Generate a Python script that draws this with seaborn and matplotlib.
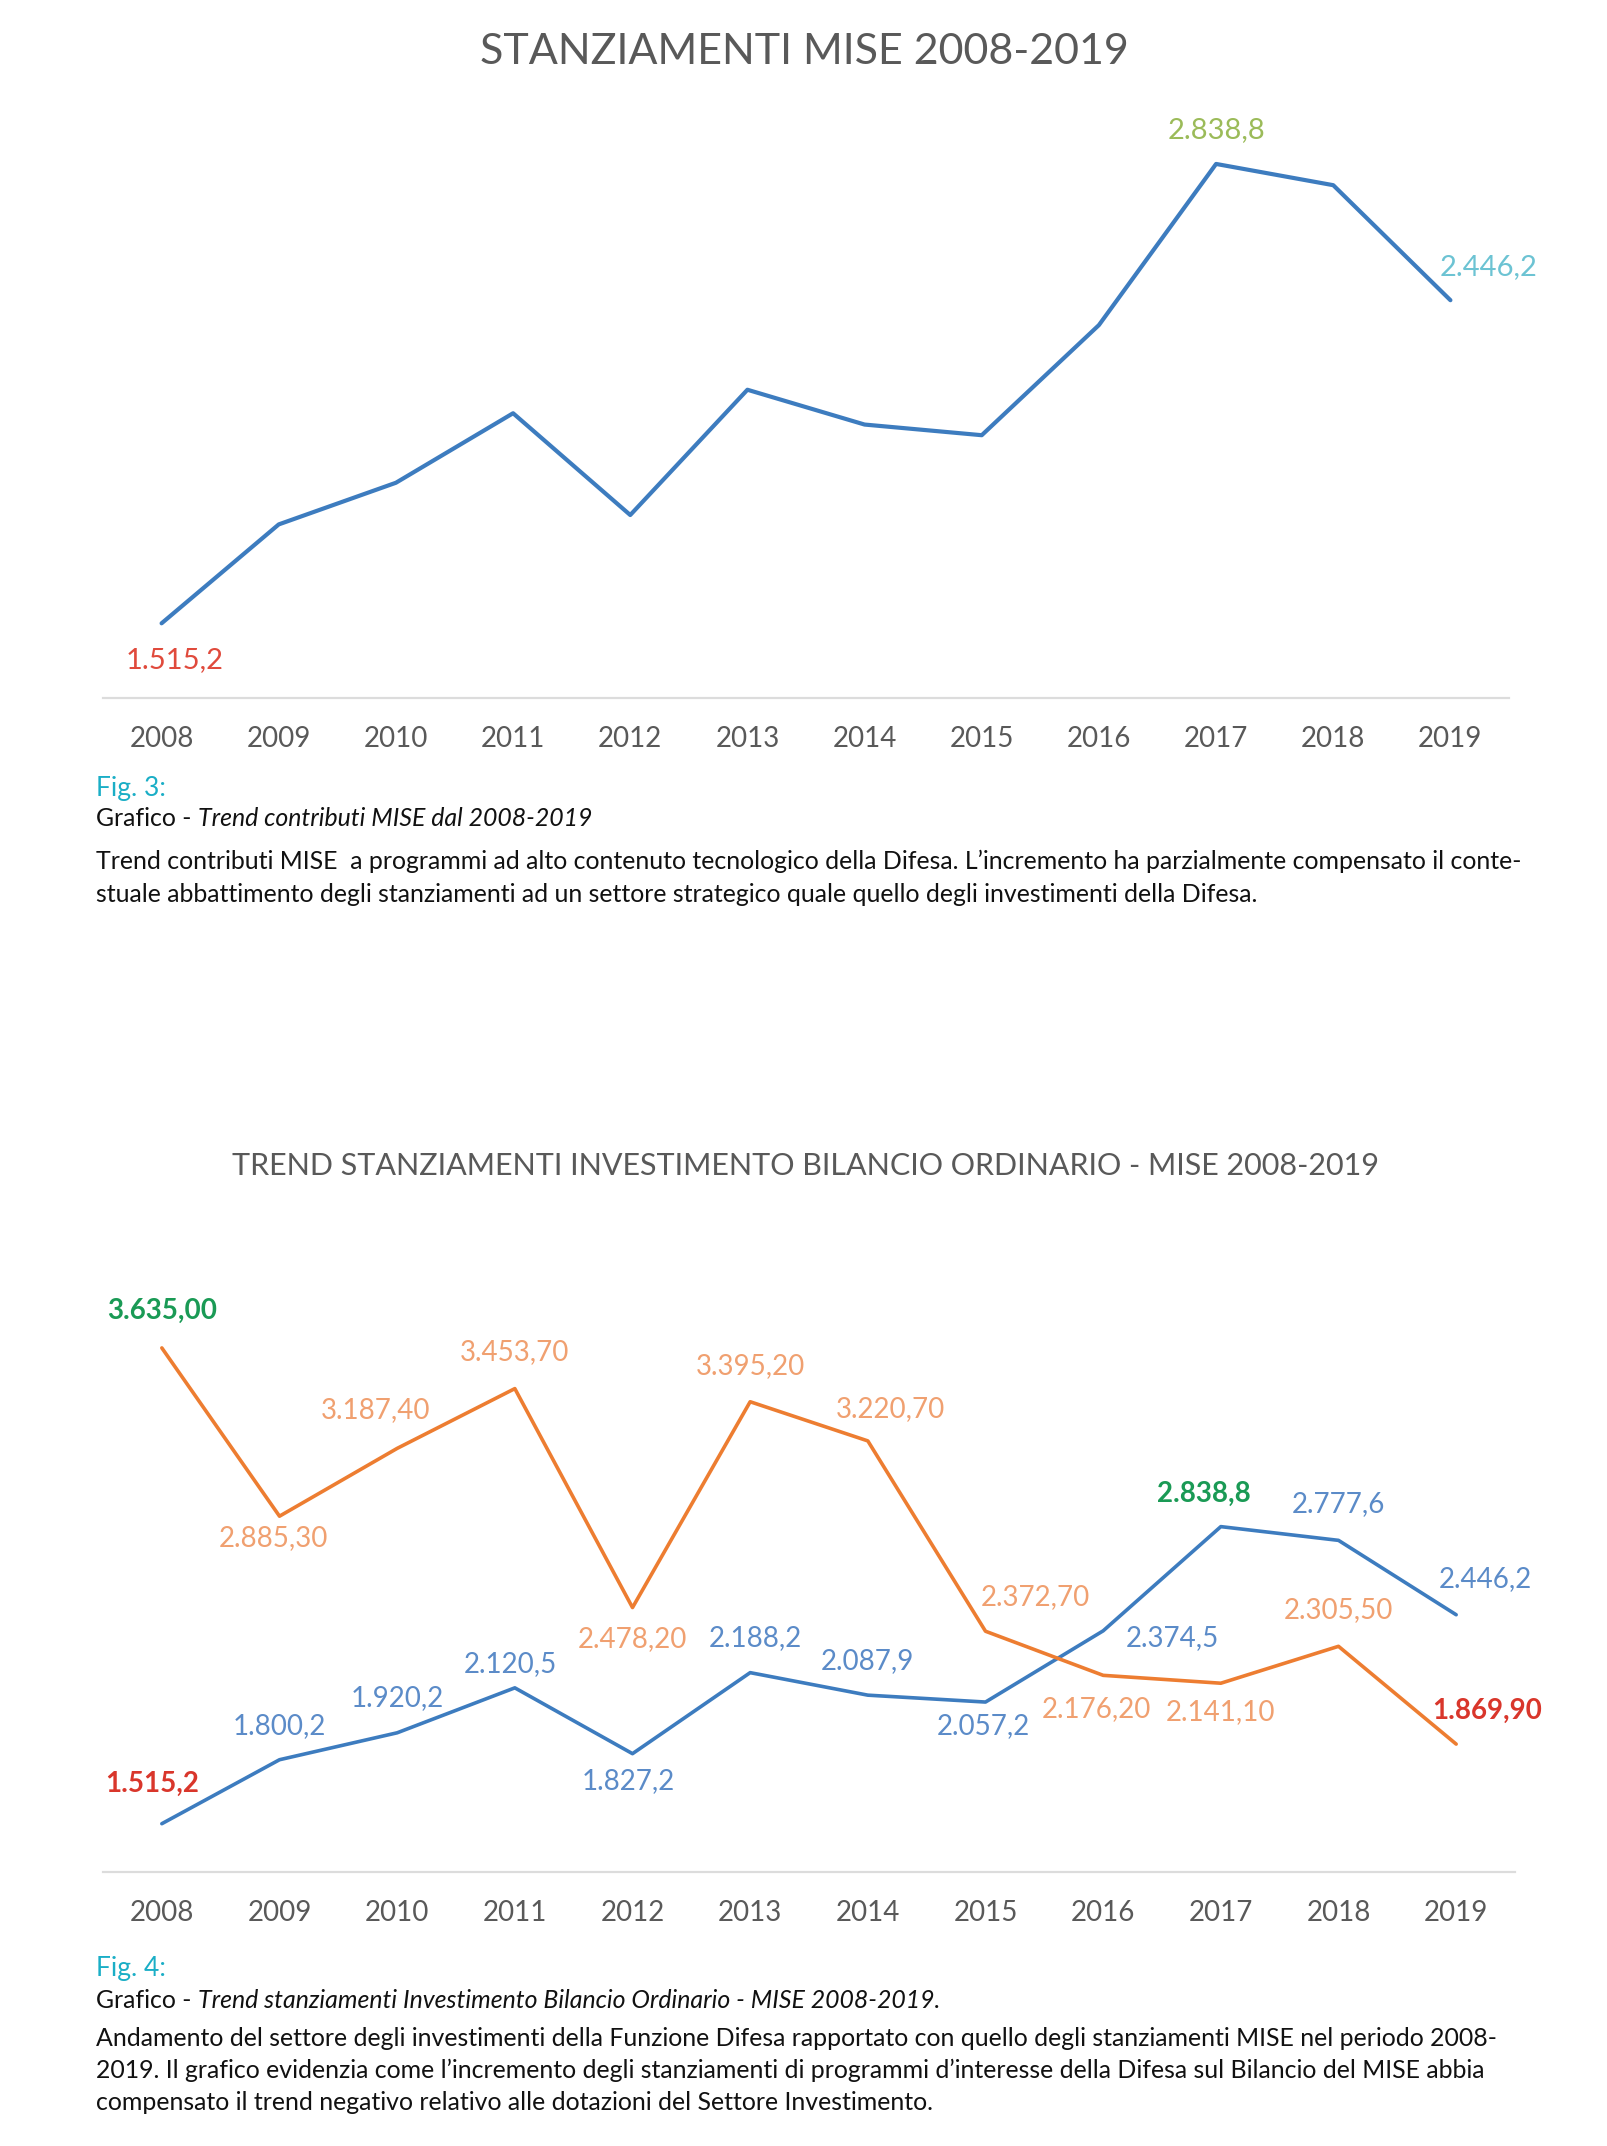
import pandas as pd
import seaborn as sns
import matplotlib.pyplot as plt

years = ['2008', '2009', '2010', '2011', '2012', '2013',
         '2014', '2015', '2016', '2017', '2018', '2019']
mise = [1515.2, 1800.2, 1920.2, 2120.5, 1827.2, 2188.2,
        2087.9, 2057.2, 2374.5, 2838.8, 2777.6, 2446.2]
investimento = [3635.00, 2885.30, 3187.40, 3453.70, 2478.20, 3395.20,
                3220.70, 2372.70, 2176.20, 2141.10, 2305.50, 1869.90]

mise_labels = ['1.515,2', '1.800,2', '1.920,2', '2.120,5', '1.827,2', '2.188,2',
               '2.087,9', '2.057,2', '2.374,5', '2.838,8', '2.777,6', '2.446,2']
inv_labels = ['3.635,00', '2.885,30', '3.187,40', '3.453,70', '2.478,20', '3.395,20',
              '3.220,70', '2.372,70', '2.176,20', '2.141,10', '2.305,50', '1.869,90']

BLUE = '#3d7cbf'
ORANGE = '#ed7d31'
GREY = '#595959'

sns.set_style('white')
plt.rcParams['font.family'] = ['Lato', 'DejaVu Sans']

W, H = 1608, 2146
fig = plt.figure(figsize=(W / 100, H / 100), dpi=100)


def style_axis(ax, ylim):
    ax.set_xlim(-0.5, 11.5)
    ax.set_ylim(*ylim)
    for s in ['top', 'left', 'right']:
        ax.spines[s].set_visible(False)
    ax.spines['bottom'].set_color('#dcdcdc')
    ax.spines['bottom'].set_linewidth(1.6)
    ax.set_yticks([])
    ax.set_xticks(range(len(years)))
    ax.set_xticklabels(years, fontsize=20, color=GREY)
    ax.tick_params(axis='x', length=0, pad=20)
    ax.set_xlabel('')
    ax.set_ylabel('')
    ax.set_facecolor('none')


def label(ax, i, v, text, dx, dy, color, bold=False, size=20):
    ax.annotate(text, xy=(i, v), xytext=(dx, dy), textcoords='offset pixels',
                ha='center', va='center', fontsize=size, color=color,
                fontweight='bold' if bold else 'normal')


# ---- chart 1
df1 = pd.DataFrame({'x': range(len(years)), 'v': mise})
ax1 = fig.add_axes([103 / W, 1 - 698 / H, 1406 / W, 590 / H])
sns.lineplot(data=df1, x='x', y='v', ax=ax1, color=BLUE, linewidth=3)
style_axis(ax1, (1300, 3000))
label(ax1, 9, mise[9], mise_labels[9], 0, 34, '#9bbb59', size=21)
label(ax1, 11, mise[11], mise_labels[11], 38, 33, '#6cc3d3', size=21)
label(ax1, 0, mise[0], mise_labels[0], 13, -37, '#e04a3c', size=21)
fig.text(0.5, 1 - 52 / H, 'STANZIAMENTI MISE 2008-2019', ha='center', va='center',
         fontsize=31, color=GREY)

# ---- chart 2
df2 = pd.DataFrame({
    'x': list(range(len(years))) * 2,
    'v': mise + investimento,
    'serie': ['MISE'] * len(years) + ['Investimento'] * len(years),
})
ax2 = fig.add_axes([103 / W, 1 - 1872 / H, 1412 / W, 606 / H])
sns.lineplot(data=df2, x='x', y='v', hue='serie', ax=ax2,
             palette={'MISE': BLUE, 'Investimento': ORANGE},
             linewidth=2.6, legend=False)
style_axis(ax2, (1300, 4000))
fig.text(806 / W, 1 - 1166 / H,
         'TREND STANZIAMENTI INVESTIMENTO BILANCIO ORDINARIO - MISE 2008-2019',
         ha='center', va='center', fontsize=22, color=GREY)

inv_off = [(0, 37), (-6, -22), (-22, 38), (0, 37), (0, -31), (0, 36),
           (23, 32), (50, 34), (-7, -34), (0, -29), (0, 36), (31, 33)]
mise_off = [(-10, 40), (0, 34), (0, 35), (-4, 24), (-4, -27), (5, 35),
            (0, 34), (-2, -24), (69, -7), (-17, 33), (0, 36), (29, 36)]

for i, (txt, (dx, dy)) in enumerate(zip(inv_labels, inv_off)):
    if i == 0:
        label(ax2, i, investimento[i], txt, dx, dy, '#1a9a55', bold=True)
    elif i == 11:
        label(ax2, i, investimento[i], txt, dx, dy, '#d9362b', bold=True)
    else:
        label(ax2, i, investimento[i], txt, dx, dy, '#f0a070')

for i, (txt, (dx, dy)) in enumerate(zip(mise_labels, mise_off)):
    if i == 0:
        label(ax2, i, mise[i], txt, dx, dy, '#d9362b', bold=True)
    elif i == 9:
        label(ax2, i, mise[i], txt, dx, dy, '#1a9a55', bold=True)
    else:
        label(ax2, i, mise[i], txt, dx, dy, '#5b8bc8')

# ---- captions
cap = fig.add_axes([0, 0, 1, 1])
cap.set_axis_off()
cap.set_xlim(0, W)
cap.set_ylim(H, 0)

CYAN = '#1aaec6'
BODY = 17.9


def caption(y_fig, y_sub, y_body, step, fig_txt, italic_txt, body_lines):
    cap.text(96, y_fig, fig_txt, color=CYAN, fontsize=19, va='baseline')
    t = cap.text(96, y_sub, 'Grafico - ', color='#111111', fontsize=BODY, va='baseline')
    cap.annotate(italic_txt, xy=(1, 0), xycoords=t, va='bottom', ha='left',
                 fontsize=BODY, style='italic', color='#111111')
    for k, line in enumerate(body_lines):
        cap.text(96, y_body + k * step, line, color='#111111', fontsize=BODY,
                 va='baseline')


caption(796, 826, 869, 33, 'Fig. 3:', 'Trend contributi MISE dal 2008-2019',
        ['Trend contributi MISE  a programmi ad alto contenuto tecnologico della Difesa. '
         'L\u2019incremento ha parzialmente compensato il conte-',
         'stuale abbattimento degli stanziamenti ad un settore strategico quale quello '
         'degli investimenti della Difesa.'])

caption(1976, 2008, 2046, 32, 'Fig. 4:',
        'Trend stanziamenti Investimento Bilancio Ordinario - MISE 2008-2019.',
        ['Andamento del settore degli investimenti della Funzione Difesa rapportato con '
         'quello degli stanziamenti MISE nel periodo 2008-',
         '2019. Il grafico evidenzia come l\u2019incremento degli stanziamenti di programmi '
         'd\u2019interesse della Difesa sul Bilancio del MISE abbia',
         'compensato il trend negativo relativo alle dotazioni del Settore Investimento.'])

fig.savefig('out.png', dpi=100, facecolor='white')
